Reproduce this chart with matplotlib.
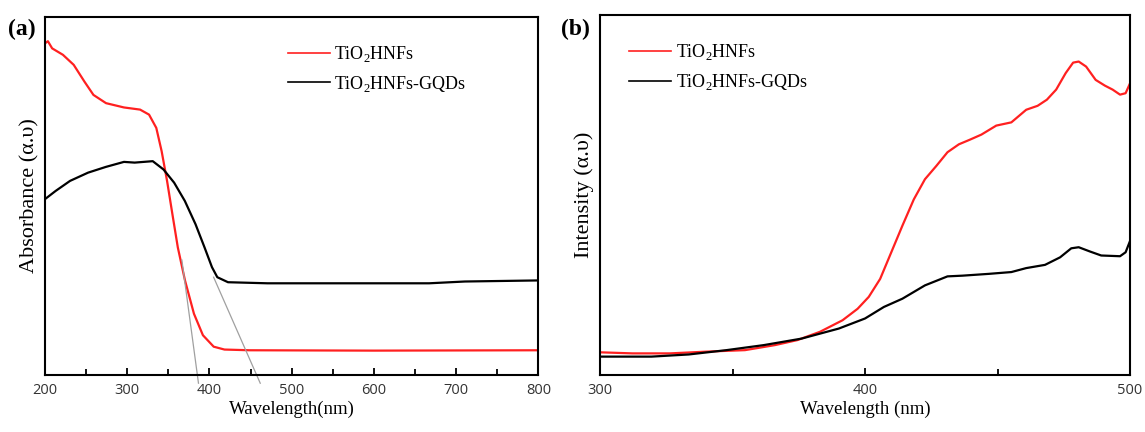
import matplotlib.pyplot as plt
import numpy as np
from matplotlib.ticker import MultipleLocator

plt.rcParams['font.family'] = 'Liberation Serif'
plt.rcParams['mathtext.fontset'] = 'custom'
plt.rcParams['mathtext.rm'] = 'Liberation Serif'

# (a) UV-vis absorbance
wl_a_red = [200, 203.5, 208.7, 221.8, 234.9, 248, 258.9, 274.2, 296, 315.6, 326.5, 335.3,
            341.8, 348.4, 354.9, 361.5, 370.2, 381.1, 392, 405.1, 418.2, 448.7, 600, 800]
abs_red = [0.926, 0.932, 0.912, 0.894, 0.866, 0.819, 0.782, 0.759, 0.747, 0.741, 0.727, 0.690,
           0.625, 0.542, 0.449, 0.356, 0.264, 0.171, 0.111, 0.079, 0.071, 0.069, 0.068, 0.069]
wl_a_black = [200, 213, 230.5, 252.4, 274, 296, 309, 331, 344, 357, 370, 383, 394, 403,
              409.5, 422.5, 470.5, 600, 667, 710.5, 800]
abs_black = [0.491, 0.514, 0.542, 0.565, 0.581, 0.595, 0.593, 0.597, 0.574, 0.537, 0.486,
             0.421, 0.356, 0.301, 0.273, 0.259, 0.256, 0.256, 0.256, 0.261, 0.264]
# band-edge tangent lines
tan1_x = [366.4, 386.6]
tan1_y = [0.321, -0.023]
tan2_x = [405.0, 461.7]
tan2_y = [0.273, -0.023]

# (b) PL intensity
wl_b_red = [300, 312.3, 326.4, 340.6, 354.7, 366, 374.5, 383, 391.5, 397.2, 401.4, 405.7,
            409.9, 414.1, 418.4, 422.6, 426.9, 431.1, 435.4, 439.6, 443.9, 449.5, 455.2,
            460.8, 465.1, 468.6, 472.1, 475.7, 478.5, 480.6, 483.4, 487, 490.5, 493.4,
            496.2, 498.3, 500]
int_red = [0.063, 0.060, 0.060, 0.065, 0.069, 0.083, 0.097, 0.120, 0.152, 0.184, 0.217, 0.267,
           0.341, 0.415, 0.488, 0.544, 0.581, 0.619, 0.641, 0.654, 0.668, 0.693, 0.702,
           0.737, 0.748, 0.765, 0.793, 0.839, 0.868, 0.871, 0.857, 0.820, 0.804, 0.793,
           0.779, 0.783, 0.811]
wl_b_black = [300, 319.4, 333.5, 347.7, 361.8, 376, 390.1, 400, 407.1, 414.1, 422.6, 431.1,
              436.8, 446.7, 455.2, 460.8, 467.9, 473.6, 477.8, 480.6, 484.9, 489.1, 496.2,
              498.3, 500]
int_black = [0.051, 0.051, 0.057, 0.069, 0.083, 0.101, 0.129, 0.157, 0.189, 0.212, 0.249,
             0.274, 0.276, 0.281, 0.286, 0.297, 0.306, 0.327, 0.352, 0.355, 0.343, 0.332,
             0.330, 0.341, 0.373]

red = '#ff2020'
lab_red = 'TiO$_\\mathregular{2}$HNFs'
lab_black = 'TiO$_\\mathregular{2}$HNFs-GQDs'

fig = plt.figure(figsize=(11.45, 4.32), dpi=100)
ax1 = fig.add_axes([0.0393, 0.132, 0.431, 0.829])
ax2 = fig.add_axes([0.524, 0.132, 0.463, 0.833])

ax1.plot(wl_a_red, abs_red, color=red, lw=1.6, label=lab_red)
ax1.plot(wl_a_black, abs_black, color='black', lw=1.6, label=lab_black)
ax1.plot(tan1_x, tan1_y, color='#a0a0a0', lw=0.9, clip_on=False)
ax1.plot(tan2_x, tan2_y, color='#a0a0a0', lw=0.9, clip_on=False)
ax1.set_xlim(200, 800)
ax1.set_ylim(0, 1)
ax1.xaxis.set_major_locator(MultipleLocator(100))
ax1.xaxis.set_minor_locator(MultipleLocator(50))
ax1.set_xlabel('Wavelength(nm)', fontsize=13.5, labelpad=2)
ax1.set_ylabel('Absorbance (α.υ)', fontsize=16, labelpad=4)
leg1 = ax1.legend(loc='upper left', bbox_to_anchor=(0.46, 0.97), frameon=False, fontsize=13,
                  handlelength=2.3, handletextpad=0.25, labelspacing=0.55)

ax2.plot(wl_b_red, int_red, color=red, lw=1.6, label=lab_red)
ax2.plot(wl_b_black, int_black, color='black', lw=1.6, label=lab_black)
ax2.set_xlim(300, 500)
ax2.set_ylim(0, 1)
ax2.xaxis.set_major_locator(MultipleLocator(100))
ax2.xaxis.set_minor_locator(MultipleLocator(50))
ax2.set_xlabel('Wavelength (nm)', fontsize=13.5, labelpad=2)
ax2.set_ylabel('Intensity (α.υ)', fontsize=16, labelpad=4)
leg2 = ax2.legend(loc='upper left', bbox_to_anchor=(0.025, 0.97), frameon=False, fontsize=13,
                  handlelength=2.3, handletextpad=0.25, labelspacing=0.55)

for leg in (leg1, leg2):
    for h in leg.get_lines():
        h.set_linewidth(1.2)

for ax in (ax1, ax2):
    for s in ax.spines.values():
        s.set_linewidth(1.5)
    ax.set_yticks([])
    ax.tick_params(axis='x', which='both', direction='in', top=False, width=1.3)
    ax.tick_params(axis='x', which='major', length=5, labelsize=10.5, pad=6)
    ax.tick_params(axis='x', which='minor', length=4)
    for lab in ax.get_xticklabels():
        lab.set_family('Open Sans')
        lab.set_color('#333333')

fig.text(0.007, 0.92, '(a)', fontsize=17, fontweight='bold')
fig.text(0.490, 0.92, '(b)', fontsize=17, fontweight='bold')

fig.savefig('out.png', dpi=100)
